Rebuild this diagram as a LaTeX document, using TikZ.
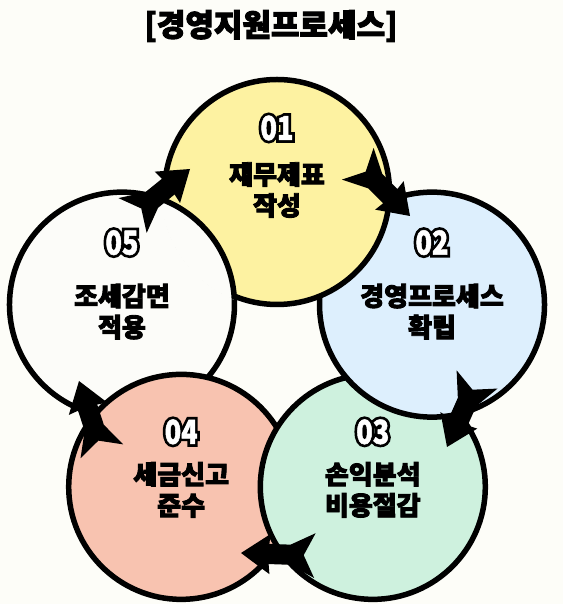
\documentclass[tikz,border=0pt]{standalone}
\usepackage{fontspec}
\setmainfont{Noto Sans CJK KR}[BoldFeatures={FakeBold=3.4}]
\newfontfamily\numfont{Noto Sans CJK KR}[FakeStretch=0.82,BoldFeatures={FakeBold=1.5}]
\newfontfamily\numrim{Noto Sans CJK KR}[FakeStretch=0.82,BoldFeatures={FakeBold=18}]
\definecolor{bgcol}{HTML}{FDFDF8}
\definecolor{yellowfill}{HTML}{FDF2A1}
\definecolor{bluefill}{HTML}{DDEFFD}
\definecolor{greenfill}{HTML}{CEF1DE}
\definecolor{salmonfill}{HTML}{F8C3B0}
\definecolor{whitefill}{HTML}{FCFCF9}
\tikzset{
    bubble/.style={circle,draw,line width=5.5pt,minimum size=225pt,inner sep=0pt},
    caption/.style={font=\bfseries\fontsize{26}{31}\selectfont,align=center},
    numtext/.style={font=\numfont\bfseries\fontsize{33}{33}\selectfont,inner sep=0pt},
    numrim/.style={font=\numrim\bfseries\fontsize{33}{33}\selectfont,inner sep=0pt},
    arrowfill/.style={fill=black},
}
\begin{document}
\begin{tikzpicture}[x=1pt,y=1pt]
            \useasboundingbox (0,0) rectangle (563,604);
            \fill[bgcol] (0,0) rectangle (563,604);
            \coordinate (o) at (277,249);
            \node[font=\bfseries\fontsize{31}{31}\selectfont] (title) at (271,578) {[경영지원프로세스]};
            \node[bubble,fill=whitefill] (c5) at ([shift={(162:163)}]o) {};
            \node[bubble,fill=salmonfill] (c4) at ([shift={(-126:163)}]o) {};
            \node[bubble,fill=greenfill] (c3) at ([shift={(-54:163)}]o) {};
            \node[bubble,fill=bluefill] (c2) at ([shift={(18:163)}]o) {};
            \node[bubble,fill=yellowfill] (c1) at ([shift={(90:163)}]o) {};
            \begin{scope}
                \clip (c1.center) circle (116);
                \node[bubble,fill=whitefill] at (c5.center) {};
            \end{scope}
            \foreach \i/\num/\txt/\ny/\ty in {1/01/{재무제표\\작성}/64/2,2/02/{경영프로세스\\확립}/62/-7,
                    3/03/{손익분석\\비용절감}/55/-3,4/04/{세금신고\\준수}/55/-3,5/05/{조세감면\\적용}/62/-7} {
                \node[numrim,text=black] at ([yshift=\ny pt]c\i.center) {\num};
                \node[numtext,text=white] (n\i) at ([yshift=\ny pt]c\i.center) {\num};
                \node[caption] (t\i) at ([yshift=\ty pt]c\i.center) {\txt};
            }
            \coordinate (a12) at (410,388);
            \coordinate (a23) at (447,157);
            \coordinate (a34) at (241,51);
            \coordinate (a45) at (79,223);
            \coordinate (a51) at (190,435);
            \foreach \p/\ang in {a12/-45,a23/246,a34/178,a45/108,a51/39}
                \fill[arrowfill,shift={(\p)},rotate=\ang,scale=1.12] (0,0) -- (-26,18) -- (-25,9) -- (-44,9)
                    -- (-66,20) -- (-56,0) -- (-66,-20) -- (-44,-9) -- (-25,-9) -- (-26,-18) -- cycle;
        \end{tikzpicture}
\end{document}
